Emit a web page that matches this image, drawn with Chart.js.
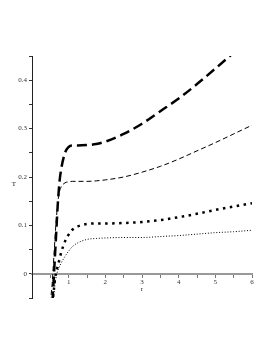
<!DOCTYPE html>
<html lang="en">
<head>
  <meta charset="UTF-8">
  <title>T vs r</title>
  <script src="https://cdn.jsdelivr.net/npm/chart.js"></script>
  <style>
    html, body { margin: 0; padding: 0; background: #fff; }
    canvas { display: block; }
  </style>
</head>
<body>
  <canvas id="tChart" width="273" height="353"></canvas>

  <script>
    // r values shared by all four curves
    const rValues = [0.5, 0.55, 0.6, 0.65, 0.7, 0.75, 0.8, 0.9, 1.0, 1.1, 1.25, 1.5, 1.75, 2, 2.5, 3, 3.5, 4, 4.5, 5, 5.5, 6];

    // T values
    const tLongDash = [-0.15, -0.07, 0.0, 0.07, 0.14, 0.19, 0.218, 0.25, 0.262, 0.265, 0.265, 0.266, 0.268, 0.273, 0.289, 0.31, 0.336, 0.362, 0.392, 0.424, 0.457, 0.49];
    const tDash     = [-0.06, -0.02, 0.04, 0.1, 0.145, 0.17, 0.18, 0.188, 0.19, 0.191, 0.191, 0.191, 0.192, 0.194, 0.2, 0.21, 0.222, 0.237, 0.254, 0.271, 0.289, 0.307];
    const tBigDots  = [-0.12, -0.07, -0.03, 0.0, 0.015, 0.03, 0.045, 0.067, 0.081, 0.091, 0.098, 0.103, 0.104, 0.104, 0.105, 0.107, 0.111, 0.117, 0.124, 0.132, 0.139, 0.146];
    const tSmallDots = [-0.13, -0.08, -0.04, -0.01, 0.006, 0.015, 0.023, 0.036, 0.047, 0.056, 0.064, 0.071, 0.073, 0.074, 0.075, 0.075, 0.077, 0.079, 0.082, 0.085, 0.087, 0.09];

    const yLabels = ['0', '0.1', '0.2', '0.3', '0.4'];
    const xLabels = ['1', '2', '3', '4', '5', '6'];

    const toPoints = (ys) => rValues.map((r, i) => ({ x: r, y: ys[i] }));

    const font = { family: '"Liberation Serif", "DejaVu Serif", serif', size: 7 };

    const lineStyle = (data, width, dash) => ({
      data: toPoints(data),
      borderColor: '#000',
      borderWidth: width,
      borderDash: dash,
      pointRadius: 0,
      fill: false,
      cubicInterpolationMode: 'monotone'
    });

    const axisTitles = {
      id: 'axisTitles',
      afterDraw(chart) {
        const { ctx, scales } = chart;
        ctx.save();
        ctx.fillStyle = '#222';
        ctx.font = '7px "Liberation Serif", serif';
        ctx.textAlign = 'center';
        ctx.textBaseline = 'middle';
        ctx.fillText('T', 14, scales.y.getPixelForValue(0.185));
        ctx.fillText('r', scales.x.getPixelForValue(3), scales.y.getPixelForValue(0) + 15);
        ctx.restore();
      }
    };

    new Chart(document.getElementById('tChart'), {
      type: 'line',
      data: {
        datasets: [
          lineStyle(tLongDash, 2.5, [10, 5]),
          lineStyle(tDash, 1, [5, 3]),
          lineStyle(tBigDots, 2.5, [2.5, 4.5]),
          lineStyle(tSmallDots, 1, [1, 1.8])
        ]
      },
      options: {
        responsive: false,
        animation: false,
        devicePixelRatio: 1,
        layout: { padding: { top: 56, right: 21, bottom: 55, left: 0 } },
        plugins: { legend: { display: false }, tooltip: { enabled: false } },
        scales: {
          x: {
            type: 'linear',
            min: 0,
            max: 6,
            position: { y: 0 },
            afterFit: (scale) => { scale.height = 0; },
            ticks: {
              stepSize: 0.5,
              autoSkip: false,
              maxRotation: 0,
              padding: 1,
              color: '#333',
              font: font,
              callback: (v) => xLabels.includes(String(v)) ? String(v) : ''
            },
            grid: { drawOnChartArea: false, tickLength: 3, color: '#777' },
            border: { color: '#999', width: 2 }
          },
          y: {
            min: -0.05,
            max: 0.45,
            afterFit: (scale) => { scale.width = 32; },
            ticks: {
              stepSize: 0.05,
              autoSkip: false,
              padding: 2,
              color: '#333',
              font: font,
              callback: (v) => {
                const s = String(Math.round(v * 100) / 100);
                return yLabels.includes(s) ? s : '';
              }
            },
            grid: { drawOnChartArea: false, tickLength: 3, color: '#333' },
            border: { color: '#222', width: 1 }
          }
        }
      },
      plugins: [axisTitles]
    });
  </script>
</body>
</html>
